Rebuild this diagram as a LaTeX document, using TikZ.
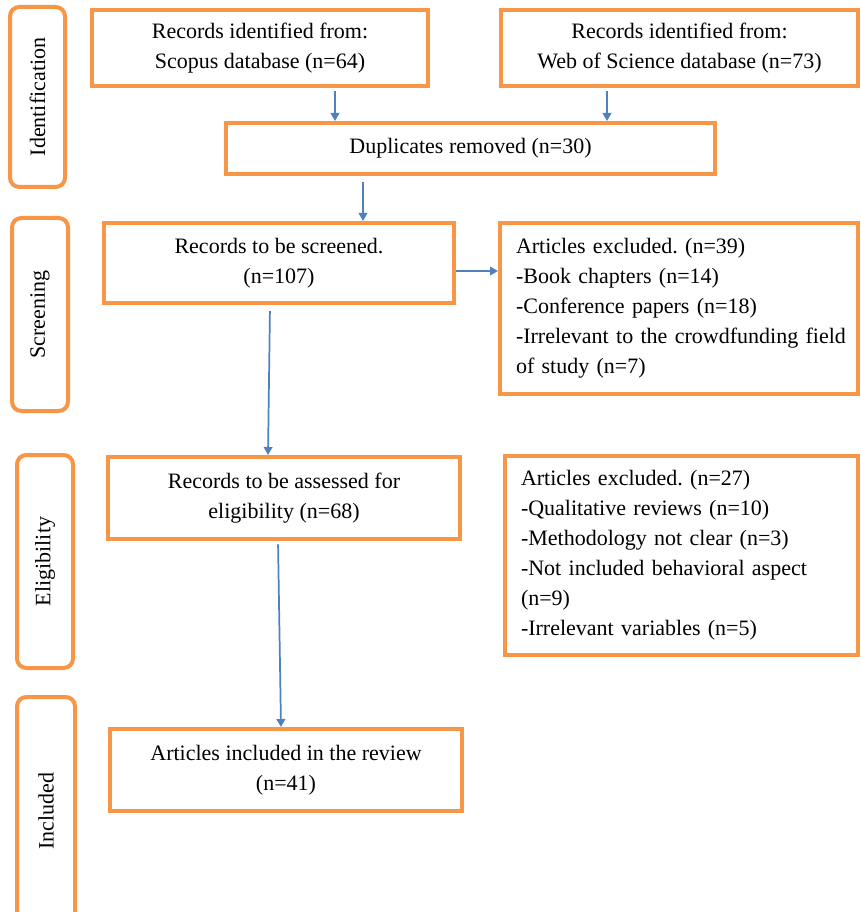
\documentclass[tikz,border=0pt]{standalone}
\usepackage{fontspec}
\setmainfont{Liberation Serif}
\usetikzlibrary{arrows.meta,calc}
\definecolor{borange}{HTML}{F79646}
\definecolor{ablue}{HTML}{4F81BD}
\frenchspacing
\begin{document}
\begin{tikzpicture}[x=0.75pt,y=-0.75pt,
  txt/.style={font=\fontsize{16.5}{22.5}\selectfont},
  box/.style={txt,draw=borange,line width=3pt,align=center,inner sep=0pt},
  exbox/.style={txt,draw=borange,line width=3pt,align=left,inner xsep=12pt,inner ysep=0pt},
  side/.style={txt,draw=borange,line width=3pt,rounded corners=7pt,rotate=90,inner sep=0pt},
  arr/.style={draw=ablue,line width=1.3pt,-{Triangle[length=6pt,width=6.5pt]}}]
\useasboundingbox (0,0) rectangle (860,912);
\clip (0,0) rectangle (860,912);

% phase labels
\node[side,minimum width=135pt,minimum height=41.25pt] (lid) at (37.5,97) {Identification};
\node[side,minimum width=144.75pt,minimum height=42pt] (lsc) at (40,314.5) {Screening};
\node[side,minimum width=159.75pt,minimum height=42pt] (lel) at (45,561.5) {Eligibility};
\node[side,minimum width=171pt,minimum height=43.5pt] (lin) at (46,811) {Included};

% boxes
\node[box,minimum width=252pt,minimum height=57pt] (scopus) at (260,48)
  {Records identified from:\\Scopus database (n=64)};
\node[box,minimum width=267.75pt,minimum height=57pt] (wos) at (679.5,48)
  {Records identified from:\\Web of Science database (n=73)};
\node[box,minimum width=366.75pt,minimum height=38.25pt] (dup) at (470.5,148.5)
  {Duplicates removed (n=30)};
\node[box,minimum width=262.5pt,minimum height=60pt] (scr) at (279,263)
  {Records to be screened.\\(n=107)};
\node[exbox,minimum width=268.5pt,minimum height=128.25pt,text width=244.5pt] (ex1) at (679,308.5)
  {Articles excluded. (n=39)\\-Book chapters (n=14)\\-Conference papers (n=18)\\\mbox{-Irrelevant to the crowdfunding field}\\of study (n=7)};
\node[box,minimum width=264pt,minimum height=61.5pt] (ass) at (284,498)
  {Records to be assessed for\\eligibility (n=68)};
\node[exbox,minimum width=264.75pt,minimum height=149.25pt,text width=240.75pt] (ex2) at (681.5,555.5)
  {Articles excluded. (n=27)\\-Qualitative reviews (n=10)\\-Methodology not clear (n=3)\\-Not included behavioral aspect\\(n=9)\\-Irrelevant variables (n=5)};
\node[box,minimum width=264pt,minimum height=61.5pt] (inc) at (286,770)
  {Articles included in the review\\(n=41)};

% connectors
\coordinate (c1) at (335,0);
\coordinate (c2) at (607,0);
\coordinate (c3) at (363,0);
\coordinate (c4) at (0,271);
\coordinate (c5a) at (270,0);
\coordinate (c5b) at (268,0);
\coordinate (c6a) at (278,0);
\coordinate (c6b) at (281,0);
\draw[arr,shorten <=2.5pt] (scopus.south -| c1) -- (dup.north -| c1);
\draw[arr,shorten <=2.5pt] (wos.south -| c2) -- (dup.north -| c2);
\draw[arr,shorten <=4.5pt] (dup.south -| c3) -- (scr.north -| c3);
\draw[arr] (scr.east |- c4) -- (ex1.west |- c4);
\draw[arr,shorten <=4.5pt] (scr.south -| c5a) -- (ass.north -| c5b);
\draw[arr,shorten <=2.5pt] (ass.south -| c6a) -- (inc.north -| c6b);
\end{tikzpicture}
\end{document}
